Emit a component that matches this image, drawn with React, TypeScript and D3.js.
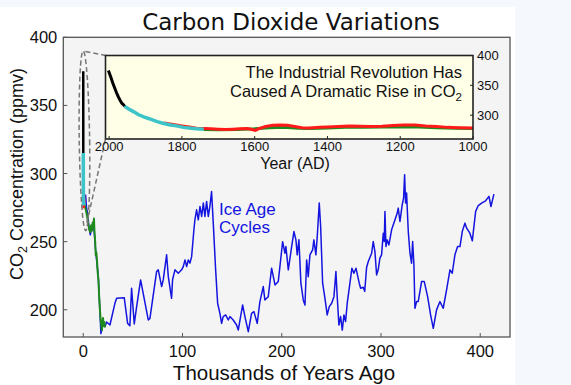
import React from "react";
import * as d3 from "d3";

// ---------- Data ----------
// Vostok ice core (thousands of years ago, ppmv)
const vostokAge = [2.3,3.3,4.5,5.6,7.1,8.5,10.1,11,12.3,13.5,15,16,17,17.8,20.2,21.9,23.5,26.9,31.9,33.6,41.3,44.7,47,48.7,51.4,53.8,57.8,65.5,67.2,73.9,75.6,79,80.6,84,85.7,89,90,92.4,95.7,99.1,100.8,102.5,104.2,105.8,107.5,109.2,111.5,112.5,114.2,115.9,117.6,119.3,121,122.6,124.3,126,127.6,129.3,131,133.4,135.4,137.7,139.4,141,143.5,146.1,147.8,151.1,154.5,156.2,160.6,162.9,166.3,169.6,172,175.3,178,181.4,183,186.4,189.8,193.2,196.5,200.9,203.2,204.2,206.6,210,212.3,214.3,215.6,217.3,219.3,221.7,223.4,225.1,226.7,228.4,231.1,232.4,234.4,235.8,237.8,239.2,241.2,242.8,244.2,245.8,247.9,250.3,252.6,254.6,255.9,257.6,259.3,261,262.7,264.3,266,268.7,270.7,272.7,274.8,278.1,279.5,282.1,283.6,285.5,287.2,290.6,292.2,293.9,295.6,297.2,298.9,300.6,302.3,303.3,304,305,306.3,308,310.7,314.1,316.4,317.4,319.1,321.4,322.8,323.8,324.8,325.8,327.5,329.2,330.8,331.9,333.2,334.2,335.9,337.5,340.9,343.6,347,350,352.7,356,359.4,362.7,366.1,369.5,371.8,374.5,377.2,379.6,381.9,384.6,386.3,389.6,392,395.4,398,401.4,405.4,408.8,410.8,413.8];
const vostokCO2 = [284.5,275,270,262,255,260,262,258,245,236,226,212,195,182.5,190,187.6,191,188.8,204.7,208.4,208.9,190,188.3,215.8,189.6,202.3,221.9,192.5,193.7,228,229.3,217,221.9,240.3,224.3,208.4,222,229.3,226.8,229.3,231.7,236.6,231.7,236.6,234.2,239,258.7,266,273.4,266,275.8,268.5,278.3,268.5,279.5,268.5,275.8,286.8,263.6,229.3,204.8,197.4,190,195,196.2,192.5,195,192.5,188.8,185.1,203.5,195,183.9,197.4,198.6,190,206,217,207.2,209.6,230.5,218.2,220.7,250,241.5,246.4,229.3,246.4,257.4,251.3,240.3,251.3,219.5,207.2,203.5,236.6,224.3,240.3,244,251.3,240.3,253.8,278.3,261.1,219.5,212.1,204.8,196.2,202.3,204.8,209.6,228,209.6,188.8,195,185.1,196.2,191.3,204.8,219.5,230.5,226.8,230.5,219.5,215.8,216.5,213.5,231,235.4,241.5,250.1,242.7,225.6,229.3,237.9,240.3,256.2,250.1,272.2,246.4,251.3,247.6,258.7,266,271,274.6,264.8,277.1,282,299.1,278.3,285.7,257.4,241.5,234.2,250.1,232.9,201.1,206,206,220.7,220.7,209.6,196.2,186.4,199.9,206,201.1,214.6,229.3,226.8,240.3,246.4,246.4,257.4,263.6,259.9,256.2,250.6,272.2,276.5,278.3,280,283.2,275.8,284.9];

// Second ice core, Holocene / deglaciation (thousands of years ago, ppmv)
const greenAge = [0.3,1,2,3,4,5,6,7,8,8.8,9.5,10.3,10.8,11.3,12,12.6,13.2,13.8,14.5,15.3,16,16.8,17.5,18.2,18.8,19.3,19.9,20.5,21.2,22];
const greenCO2 = [279,278,275,272,268,263,259,257,262,258,264,261,267,258,250,240,242,237,228,222,210,200,193,189,185,190,194,188,191,187];

// Instrumental record, Mauna Loa (year AD, ppmv)
const maunaYear = [2002,1998,1995,1990,1985,1980,1975,1970,1965,1960,1958];
const maunaCO2 = [375,368,363,354,346,338,331,325,320,317,315];

// Law Dome (year AD, ppmv)
const lawYear = [1958,1945,1932,1920,1905,1890,1868,1850,1832,1815,1795,1775,1760,1740];
const lawCO2 = [315,310,305.5,301,297,294,289,286,283.5,282,279.5,278,277,276.5];

// Red record, last millennium (year AD, ppmv)
const redYear = [1850,1820,1800,1780,1760,1740,1720,1700,1680,1660,1640,1620,1605,1598,1590,1570,1550,1530,1510,1490,1470,1450,1420,1400,1370,1340,1310,1280,1250,1220,1190,1160,1130,1100,1070,1040,1000];
const redCO2 = [287,284,282,280,278,277.5,277,276.5,276,276.5,277,277.5,275.5,274.5,277,281,283,283.5,283,281,279,278.5,279.5,280,281,282,281.5,281,281.5,282.5,283.5,283.5,282,281,279.5,279,278.5];

// Green record, last millennium (year AD, ppmv)
const greenMYear = [1740,1700,1650,1600,1560,1520,1480,1450,1400,1350,1300,1250,1200,1150,1100,1050,1000];
const greenMCO2 = [276,275.5,276,277,279,279.5,278,277.5,278.5,279.5,279.5,280,280,280,279,278,277.5];

// Ticks
const mainYTicks = [200, 250, 300, 350, 400];
const mainXTicks = [0, 100, 200, 300, 400];
const insetXTicks = [2000, 1800, 1600, 1400, 1200, 1000];
const insetYTicks = [300, 350, 400];

// ---------- Component ----------
const W = 571;
const H = 385;
const FONT = "'Liberation Sans', Arial, Helvetica, sans-serif";

export default function App() {
  const x = d3.scaleLinear().domain([-20.1, 430]).range([63.3, 510]);
  const y = d3.scaleLinear().domain([180, 400]).range([337, 37.3]);

  const ix = d3.scaleLinear().domain([2010, 1000]).range([105.5, 473]);
  const iy = d3.scaleLinear().domain([260, 400]).range([139, 55.5]);

  const zip = (a: number[], b: number[]) => a.map((v, i) => [v, b[i]] as [number, number]);
  const yearToKyr = (yr: number) => (2000 - yr) / 1000;

  const mainLine = d3.line<[number, number]>().x(d => x(d[0])).y(d => y(d[1]));
  const mainLineYear = d3.line<[number, number]>().x(d => x(yearToKyr(d[0]))).y(d => y(d[1]));
  const insetLine = d3.line<[number, number]>().x(d => ix(d[0])).y(d => iy(d[1]));

  const vostok = zip(vostokAge, vostokCO2);
  const green = zip(greenAge, greenCO2);
  const mauna = zip(maunaYear, maunaCO2);
  const law = zip(lawYear, lawCO2);
  const red = zip(redYear, redCO2);
  const greenM = zip(greenMYear, greenMCO2);

  const pl = x.range()[0], pr = x.range()[1];
  const pt = y.range()[1], pb = y.range()[0];
  const il = ix.range()[0], ir = ix.range()[1];
  const it = iy.range()[1], ib = iy.range()[0];

  // zoom ellipse around the recent record
  const ex = x(1.2);
  const eTop = y(390);
  const eBot = y(258);
  const ecy = (eTop + eBot) / 2;
  const ery = (eBot - eTop) / 2;

  const BLUE = "#1414e0";
  const GREEN = "#1e8a1e";
  const CYAN = "#3cc4c8";
  const RED = "#ff1a1a";

  return (
    <svg width={W} height={H} style={{ position: "absolute", left: 0, top: 0 }} fontFamily={FONT}>
      <rect x={0} y={0} width={W} height={H} fill="#f5f8fc" />
      <rect x={0} y={7} width={515} height={H - 7} fill="#ffffff" />

      {/* Title */}
      <text x={291} y={30} textAnchor="middle" fill="#111" fontFamily="'DejaVu Sans', Verdana, sans-serif" fontSize={23}>
        Carbon Dioxide Variations
      </text>

      {/* Main plot area */}
      <rect x={pl} y={pt} width={pr - pl} height={pb - pt} fill="#f4f4f4" stroke="#555" strokeWidth={1.3} />

      {/* ticks */}
      {mainYTicks.map(t => (
        <g key={"yt" + t}>
          <line x1={pl} x2={pl + 4} y1={y(t)} y2={y(t)} stroke="#555" strokeWidth={1} />
          <text x={pl - 6} y={y(t) + 6} fontSize={16.5} textAnchor="end" fill="#111">{t}</text>
        </g>
      ))}
      {mainXTicks.map(t => (
        <g key={"xt" + t}>
          <line x1={x(t)} x2={x(t)} y1={pb} y2={pb - 4} stroke="#555" strokeWidth={1} />
          <text x={x(t)} y={357} fontSize={16.5} textAnchor="middle" fill="#111">{t}</text>
        </g>
      ))}

      {/* axis labels */}
      <text x={284} y={379.5} fontSize={20.5} textAnchor="middle" fill="#111">Thousands of Years Ago</text>
      <text transform="translate(23,174) rotate(-90)" fontSize={18} textAnchor="middle" fill="#111">
        CO<tspan fontSize={12.5} dy={4}>2</tspan><tspan dy={-4}> Concentration (ppmv)</tspan>
      </text>

      {/* data lines */}
      <path d={mainLine(vostok) || ""} fill="none" stroke={BLUE} strokeWidth={1.5} strokeLinejoin="round" />
      <path d={mainLine(green) || ""} fill="none" stroke={GREEN} strokeWidth={2} strokeLinejoin="round" />
      <path d={mainLineYear(red) || ""} fill="none" stroke={RED} strokeWidth={2.5} />
      <path d={mainLineYear(law) || ""} fill="none" stroke={CYAN} strokeWidth={3.5} />
      <path d={mainLineYear(mauna) || ""} fill="none" stroke="#000" strokeWidth={2.5} />

      {/* Ice Age label */}
      <text x={219} y={215} fontSize={17} fill={BLUE}>Ice Age</text>
      <text x={219} y={233} fontSize={17} fill={BLUE}>Cycles</text>

      {/* zoom ellipse and connectors */}
      <g fill="none" stroke="#777" strokeWidth={1.5} strokeDasharray="5,3">
        <ellipse cx={ex} cy={ecy} rx={5.2} ry={ery} transform={`rotate(-0.8 ${ex} ${ecy})`} />
        <line x1={ex + 1} y1={eTop + 0.5} x2={il} y2={it} />
        <line x1={ex + 2.5} y1={eBot - 8} x2={il} y2={ib} />
      </g>

      {/* Inset */}
      <rect x={il} y={it} width={ir - il} height={ib - it} fill="#fffee6" />
      <path d={insetLine(greenM) || ""} fill="none" stroke={GREEN} strokeWidth={3} />
      <path d={insetLine(red) || ""} fill="none" stroke={RED} strokeWidth={3} />
      <path d={insetLine(law) || ""} fill="none" stroke={CYAN} strokeWidth={3.5} />
      <path d={insetLine(mauna) || ""} fill="none" stroke="#000" strokeWidth={3} />
      <rect x={il} y={it} width={ir - il} height={ib - it} fill="none" stroke="#222" strokeWidth={1.6} />

      {insetXTicks.map(t => (
        <g key={"ixt" + t}>
          <line x1={ix(t)} x2={ix(t)} y1={ib} y2={ib - 3} stroke="#222" strokeWidth={1} />
          <text x={ix(t)} y={151} fontSize={13} textAnchor="middle" fill="#111">{t}</text>
        </g>
      ))}
      {insetYTicks.map(t => (
        <g key={"iyt" + t}>
          <line x1={ir} x2={ir - 3} y1={iy(t)} y2={iy(t)} stroke="#222" strokeWidth={1} />
          <text x={ir + 4} y={iy(t) + 4.5} fontSize={13} textAnchor="start" fill="#111">{t}</text>
        </g>
      ))}
      <text x={295} y={169} fontSize={16} textAnchor="middle" fill="#111">Year (AD)</text>

      <text x={462} y={78} fontSize={16.5} textAnchor="end" fill="#111">The Industrial Revolution Has</text>
      <text x={462} y={97} fontSize={16.5} textAnchor="end" fill="#111">
        Caused A Dramatic Rise in CO<tspan fontSize={11.5} dy={4}>2</tspan>
      </text>
    </svg>
  );
}
